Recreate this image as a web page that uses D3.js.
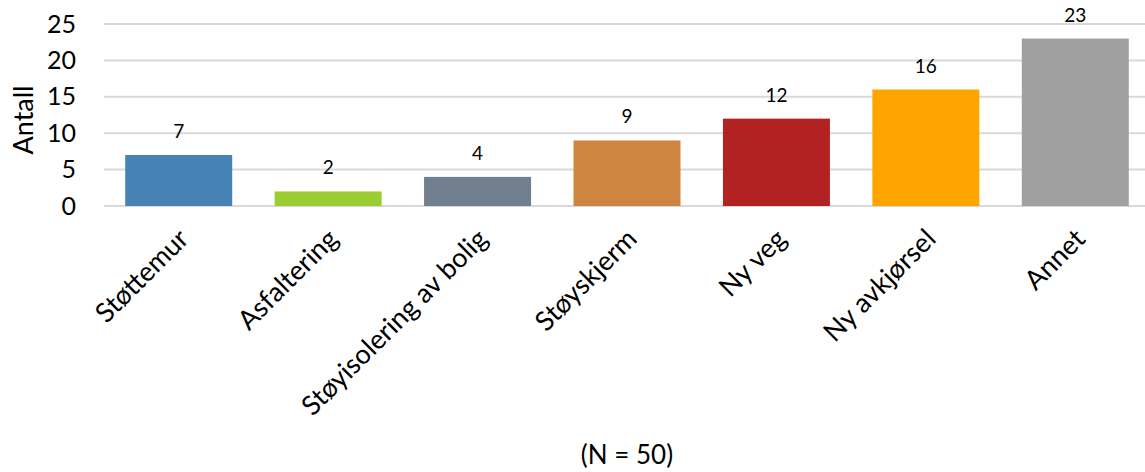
<!DOCTYPE html>
<html>
<head>
<meta charset="utf-8">
<script src="https://cdn.jsdelivr.net/npm/d3@7"></script>
<style>
  html, body { margin: 0; padding: 0; background: #fff; }
  svg { display: block; font-family: Lato, "Open Sans", sans-serif; }
</style>
</head>
<body>
<svg id="chart" width="1145" height="472"></svg>
<script>
// Categories and counts
const categories = ["Støttemur", "Asfaltering", "Støyisolering av bolig", "Støyskjerm", "Ny veg", "Ny avkjørsel", "Annet"];
const counts = [7, 2, 4, 9, 12, 16, 23];
const barColors = ["#4682B4", "#9ACD32", "#708090", "#CD853F", "#B22222", "#FFA500", "#A0A0A0"];
const yTicks = [0, 5, 10, 15, 20, 25];
const yTitle = "Antall";
const footnote = "(N = 50)";

const svg = d3.select("#chart");
const plotLeft = 104, plotRight = 1150, plotTop = 24, plotBottom = 206;

const x = d3.scaleBand()
  .domain(categories)
  .range([plotLeft, plotRight])
  .paddingInner(0.284)
  .paddingOuter(0.142);

const y = d3.scaleLinear().domain([0, 25]).range([plotBottom, plotTop]);

// Horizontal gridlines
svg.append("g")
  .selectAll("line")
  .data(yTicks)
  .join("line")
  .attr("x1", plotLeft).attr("x2", plotRight)
  .attr("y1", d => y(d)).attr("y2", d => y(d))
  .attr("stroke", "#D9D9D9")
  .attr("stroke-width", 2);

// Y axis labels
const yAxis = svg.append("g")
  .attr("transform", `translate(${plotLeft - 28},0)`)
  .call(d3.axisLeft(y).tickValues(yTicks).tickSize(0).tickPadding(0));
yAxis.select(".domain").remove();
yAxis.selectAll("text")
  .attr("font-family", "Lato, sans-serif")
  .attr("font-size", 25)
  .attr("fill", "#000");

// Bars
svg.append("g")
  .selectAll("rect")
  .data(counts)
  .join("rect")
  .attr("x", (d, i) => x(categories[i]))
  .attr("width", x.bandwidth())
  .attr("y", d => y(d))
  .attr("height", d => y(0) - y(d))
  .attr("fill", (d, i) => barColors[i]);

// Value labels
svg.append("g")
  .selectAll("text")
  .data(counts)
  .join("text")
  .attr("x", (d, i) => x(categories[i]) + x.bandwidth() / 2)
  .attr("y", d => y(d) - 17)
  .attr("text-anchor", "middle")
  .attr("font-size", 19)
  .attr("fill", "#000")
  .text(d => d);

// Rotated category labels
svg.append("g")
  .selectAll("text")
  .data(categories)
  .join("text")
  .attr("transform", d => `translate(${x(d) + x.bandwidth() / 2 - 2},${227}) rotate(-45)`)
  .attr("text-anchor", "end")
  .attr("dy", "0.71em")
  .attr("font-size", 27)
  .attr("fill", "#000")
  .text(d => d);

// Y axis title
svg.append("text")
  .attr("transform", `translate(33,${(plotTop + plotBottom) / 2 + 5}) rotate(-90)`)
  .attr("text-anchor", "middle")
  .attr("font-size", 27)
  .attr("fill", "#000")
  .text(yTitle);

// Sample size note
svg.append("text")
  .attr("x", (plotLeft + plotRight) / 2)
  .attr("y", 464)
  .attr("text-anchor", "middle")
  .attr("font-size", 26)
  .attr("fill", "#000")
  .text(footnote);
</script>
</body>
</html>
